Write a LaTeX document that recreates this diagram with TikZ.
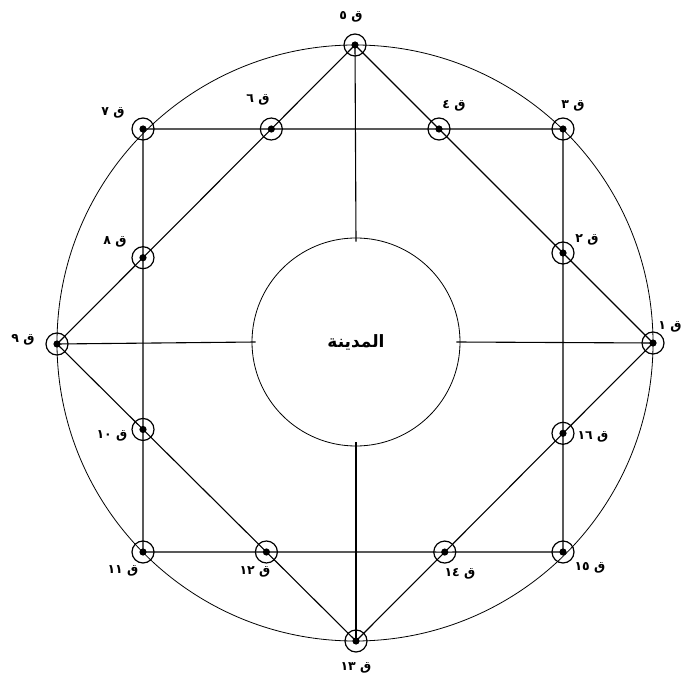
\documentclass[tikz,border=0pt]{standalone}
\usepackage{fontspec}
\newfontfamily\arabicfont[Script=Arabic]{DejaVu Sans}
\TeXXeTstate=1
\usetikzlibrary{calc}
\begin{document}
\begin{tikzpicture}[x=1pt,y=-1pt, line width=1.1pt,
  vill/.style={circle, draw, minimum size=22pt, inner sep=0pt, line width=1.2pt},
  lab/.style={font=\arabicfont\bfseries\fontsize{12.5}{14}\selectfont, inner sep=0pt},
  ring/.style={circle, draw, inner sep=0pt, line width=0.8pt}]
\useasboundingbox (0,0) rectangle (685,684);
\coordinate (O) at (355,343);
\node[ring, minimum size=596pt] (outer) at (O) {};
\coordinate (c5) at (355,45);
\coordinate (c1) at (653,343);
\coordinate (c13) at (356,641);
\coordinate (c9) at (57,344);
\coordinate (c7) at (143,129);
\coordinate (c3) at (563,129);
\coordinate (c15) at (563,552);
\coordinate (c11) at (143,552);
\coordinate (c6) at (intersection of c5--c9 and c7--c3);
\coordinate (c8) at (intersection of c5--c9 and c7--c11);
\coordinate (c4) at (intersection of c5--c1 and c7--c3);
\coordinate (c2) at (intersection of c5--c1 and c3--c15);
\coordinate (c16) at (intersection of c1--c13 and c3--c15);
\coordinate (c14) at (intersection of c1--c13 and c11--c15);
\coordinate (c12) at (intersection of c13--c9 and c11--c15);
\coordinate (c10) at (intersection of c13--c9 and c7--c11);
\foreach \i in {1,...,16} {
  \node[vill] (v\i) at (c\i) {};
  \fill (c\i) circle (3.6pt);
}
\node[ring, minimum size=208pt, font=\arabicfont\bfseries\fontsize{17}{19}\selectfont] (city) at (356,342) {\beginR المدينة\endR};
% square
\draw (v7.center) -- (v6.center) -- (v4.center) -- (v3.center) -- (v2.center) -- (v16.center) -- (v15.center) -- (v14.center) -- (v12.center) -- (v11.center) -- (v10.center) -- (v8.center) -- (v7.center);
% diamond
\draw (v5.center) -- (v4.center) -- (v2.center) -- (v1.center) -- (v16.center) -- (v14.center) -- (v13.center) -- (v12.center) -- (v10.center) -- (v9.center) -- (v8.center) -- (v6.center) -- (v5.center);
% spokes
\draw (v5.center) -- ($(city.north)+(0,4)$);
\draw (v13.center) -- ($(city.south)+(0,-4)$);
\draw (v9.center) -- ($(city.west)+(4,0)$);
\draw (v1.center) -- ($(city.east)+(-4,0)$);
% labels
\node[lab] (l1) at (670,327) {\beginR ق \beginL١\endL\endR};
\node[lab] (l2) at (587,240) {\beginR ق \beginL٢\endL\endR};
\node[lab] (l3) at (573,106) {\beginR ق \beginL٣\endL\endR};
\node[lab] (l4) at (454,106) {\beginR ق \beginL٤\endL\endR};
\node[lab] (l5) at (351,17) {\beginR ق \beginL٥\endL\endR};
\node[lab] (l6) at (258,100) {\beginR ق \beginL٦\endL\endR};
\node[lab] (l7) at (113,113) {\beginR ق \beginL٧\endL\endR};
\node[lab] (l8) at (115,242) {\beginR ق \beginL٨\endL\endR};
\node[lab] (l9) at (23,340) {\beginR ق \beginL٩\endL\endR};
\node[lab] (l10) at (112,436) {\beginR ق \beginL١٠\endL\endR};
\node[lab] (l11) at (123,571) {\beginR ق \beginL١١\endL\endR};
\node[lab] (l12) at (255,572) {\beginR ق \beginL١٢\endL\endR};
\node[lab] (l13) at (356,668) {\beginR ق \beginL١٣\endL\endR};
\node[lab] (l14) at (460,574) {\beginR ق \beginL١٤\endL\endR};
\node[lab] (l15) at (590,568) {\beginR ق \beginL١٥\endL\endR};
\node[lab] (l16) at (593,437) {\beginR ق \beginL١٦\endL\endR};
\end{tikzpicture}
\end{document}
